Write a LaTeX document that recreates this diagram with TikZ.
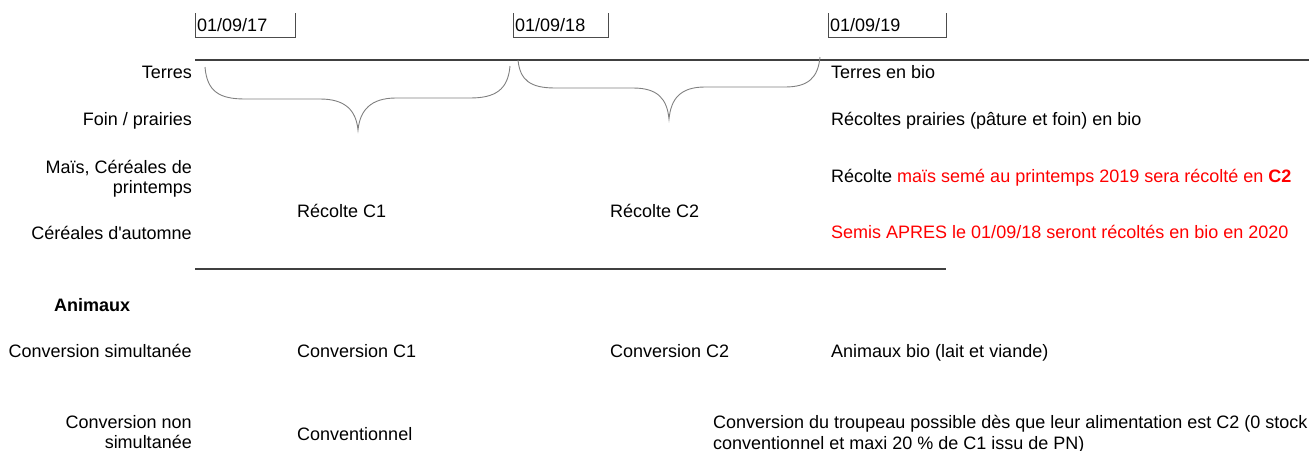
\documentclass[tikz,border=0pt]{standalone}
\usepackage{fontspec}
\setmainfont{Liberation Sans}
\begin{document}
\begin{tikzpicture}[x=1pt,y=-1pt,
  txt/.style={inner sep=0pt, font=\fontsize{18}{20.5}\selectfont},
  lab/.style={txt, anchor=base east, align=right},
  val/.style={txt, anchor=base west, align=left},
  rule/.style={draw=black!75, line width=1.3pt},
  boxline/.style={draw=black!70, line width=0.9pt},
  bracel/.style={draw=black!50, line width=0.9pt}]
\useasboundingbox (0,0) rectangle (1309,450);
% date boxes
\node[val] (d17) at (197,31.5) {01/09/17};
\node[val] (d18) at (515,31.5) {01/09/18};
\node[val] (d19) at (830,31.5) {01/09/19};
\coordinate (b17a) at (195,13); \coordinate (b17b) at (195,37); \coordinate (b17c) at (295,37); \coordinate (b17d) at (295,13);
\coordinate (b18a) at (513,13); \coordinate (b18b) at (513,37); \coordinate (b18c) at (608,37); \coordinate (b18d) at (608,13);
\coordinate (b19a) at (828,13); \coordinate (b19b) at (828,37); \coordinate (b19c) at (946,37); \coordinate (b19d) at (946,13);
\draw[boxline] (b17a) -- (b17b) -- (b17c) -- (b17d);
\draw[boxline] (b18a) -- (b18b) -- (b18c) -- (b18d);
\draw[boxline] (b19a) -- (b19b) -- (b19c) -- (b19d);
% rules
\coordinate (r1a) at (195,60); \coordinate (r1b) at (1309,60);
\coordinate (r2a) at (195,269); \coordinate (r2b) at (946,269);
\draw[rule] (r1a) -- (r1b);
\draw[rule] (r2a) -- (r2b);
% braces
\coordinate (br1l) at (205,67); \coordinate (br1t) at (358,130); \coordinate (br1r) at (510,66);
\draw[bracel] (br1l) .. controls (207,92) and (220,99) .. (245,99) -- (320,99)
  .. controls (345,99) and (356,110) .. (br1t)
  .. controls (360,110) and (371,98) .. (396,98) -- (470,98)
  .. controls (495,98) and (508,90) .. (br1r);
\coordinate (br2l) at (518,60); \coordinate (br2t) at (669,119); \coordinate (br2r) at (820,57);
\draw[bracel] (br2l) .. controls (520,80) and (530,88) .. (555,88) -- (633,88)
  .. controls (658,88) and (667,99) .. (br2t)
  .. controls (671,99) and (680,87) .. (705,87) -- (785,87)
  .. controls (808,87) and (818,78) .. (br2r);
% left labels
\node[lab] (lterres) at (192,78.3) {Terres};
\node[lab] (lfoin) at (192,125.5) {Foin / prairies};
\node[lab] (lmais) at (192,193.5) {Maïs, Céréales de\\printemps};
\node[lab] (lcer) at (192,239.5) {Céréales d\textquotesingle automne};
\node[txt, anchor=base west, font=\fontsize{18}{21}\selectfont\bfseries] (lanim) at (54,311) {Animaux};
\node[lab] (lsim) at (192,357.5) {Conversion simultanée};
\node[lab] (lnon) at (192,448.5) {Conversion non\\simultanée};
% middle
\node[val] (rc1) at (297,217.5) {Récolte C1};
\node[val] (rc2) at (610,217.5) {Récolte C2};
\node[val] (cc1) at (297,357.5) {Conversion C1};
\node[val] (cc2) at (610,357.5) {Conversion C2};
\node[val] (conv) at (297,440) {Conventionnel};
% right
\node[val] (tbio) at (831,78.3) {Terres en bio};
\node[val] (rbio) at (831,125.5) {Récoltes prairies (pâture et foin) en bio};
\node[val] (rmais) at (831,182.5) {Récolte {\color{red}maïs semé au printemps 2019 sera récolté en \textbf{C2}}};
\node[val, text=red] (semis) at (831,238) {Semis APRES le 01/09/18 seront récoltés en bio en 2020};
\node[val] (abio) at (831,357.5) {Animaux bio (lait et viande)};
\node[val] (ctroup) at (713,449) {Conversion du troupeau possible dès que leur alimentation est C2 (0 stock\\conventionnel et maxi 20 \% de C1 issu de PN)};
\end{tikzpicture}
\end{document}
